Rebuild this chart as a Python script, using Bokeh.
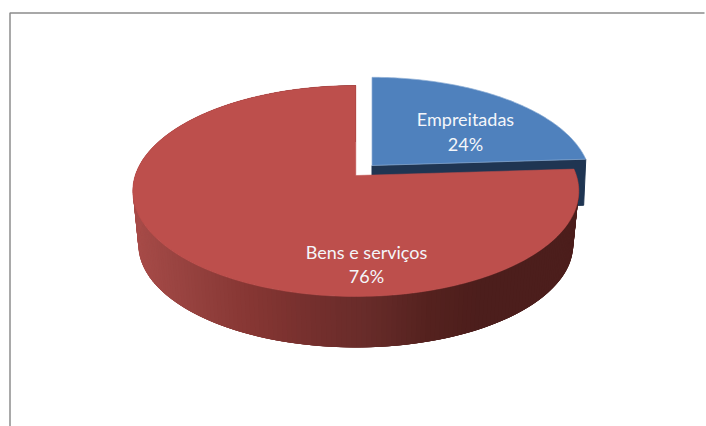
import numpy as np
from bokeh.plotting import figure
from bokeh.models import Range1d
from bokeh.core.properties import value
from bokeh.embed import file_html
from bokeh.resources import INLINE

categories = ["Empreitadas", "Bens e serviços"]
shares = [24, 76]
percent_labels = ["24%", "76%"]

TILT_A, PERSP, RADIUS_X = 103.2, 0.147, 220.6
BLUE, BLUE_DARK, RED = "#4F81BD", "#1F3552", "#BD4F4C"
FONT = "Lato"
FS = "18px"

def project(deg, cx, cy, s=1.0):
    t = np.radians(np.asarray(deg, dtype=float))
    X, Y = np.sin(t), np.cos(t)
    w = 1 + PERSP * Y
    return cx + s * RADIUS_X * X / w, cy - s * TILT_A * Y / w

p = figure(width=706, height=426, output_backend="svg", toolbar_location=None,
           x_range=Range1d(0, 706), y_range=Range1d(426, 0),
           min_border=0, outline_line_color=None, background_fill_color="white",
           border_fill_color="white")
p.axis.visible = False
p.grid.visible = False

# chart frame
p.line([9.5, 9.5, 704], [426, 12.5, 12.5], line_color="#8C8C8C", line_width=1.5)

split = 360 * shares[0] / sum(shares)

# Blue slice: cut face then top
bx, by, bs, bd = 371.5, 165.0, 0.98, 46
tx, ty = project(split, bx, by, bs)
tx2, ty2 = project(split, bx, by + bd, bs * 0.99)
p.patch([bx, tx, tx2, bx], [by, ty, ty2, by + bd], fill_color=BLUE_DARK, line_color=BLUE_DARK)
a = np.linspace(0, split, 90)
ax, ay = project(a, bx, by, bs)
p.patch(np.r_[bx, ax], np.r_[by, ay], fill_color=BLUE, line_color="#8FAFD6", line_width=1, line_alpha=0.7)

# Red slice: side wall with gradient, then top
rx, ry, rs, rd = 355.3, 175.0, 0.975, 54
stops_x = [132, 190, 250, 310, 370, 430, 480, 580]
stops_c = [(168, 76, 73), (150, 66, 63), (135, 55, 52), (118, 48, 46), (104, 44, 42), (85, 34, 31), (77, 30, 28), (76, 30, 28)]
angs = np.linspace(split, 360, 241)
xt, yt = project(angs, rx, ry)
xb, yb = project(angs, rx, ry + rd, rs)
xs, ys, cs = [], [], []
n = len(angs)
# overlapping bands, so that no seam shows between neighbours
for i in range(n - 1):
    j = min(i + 4, n - 1)
    xs.append([xt[i], xt[j], xb[j], xb[i]])
    ys.append([yt[i], yt[j], yb[j], yb[i]])
    m = xt[i]
    c = [int(np.interp(m, stops_x, [q[k] for q in stops_c])) for k in range(3)]
    cs.append("#%02x%02x%02x" % tuple(c))
p.patches(xs, ys, fill_color=cs, line_color=None)
p.patch(np.r_[rx, xt], np.r_[ry, yt], fill_color=RED, line_color=RED, line_width=0.5)

# Labels
lab_x = [465, 366]
lab_y1 = [118.5, 251.5]
lab_y2 = [143.5, 275.5]
p.text(lab_x, lab_y1, text=categories, text_color="#F4F6FA", text_align="center",
       text_baseline="middle", text_font=value(FONT), text_font_size=FS)
p.text(lab_x, lab_y2, text=percent_labels, text_color="#F4F6FA", text_align="center",
       text_baseline="middle", text_font=value(FONT), text_font_size=FS)

open("out.html", "w").write(file_html(p, INLINE))
